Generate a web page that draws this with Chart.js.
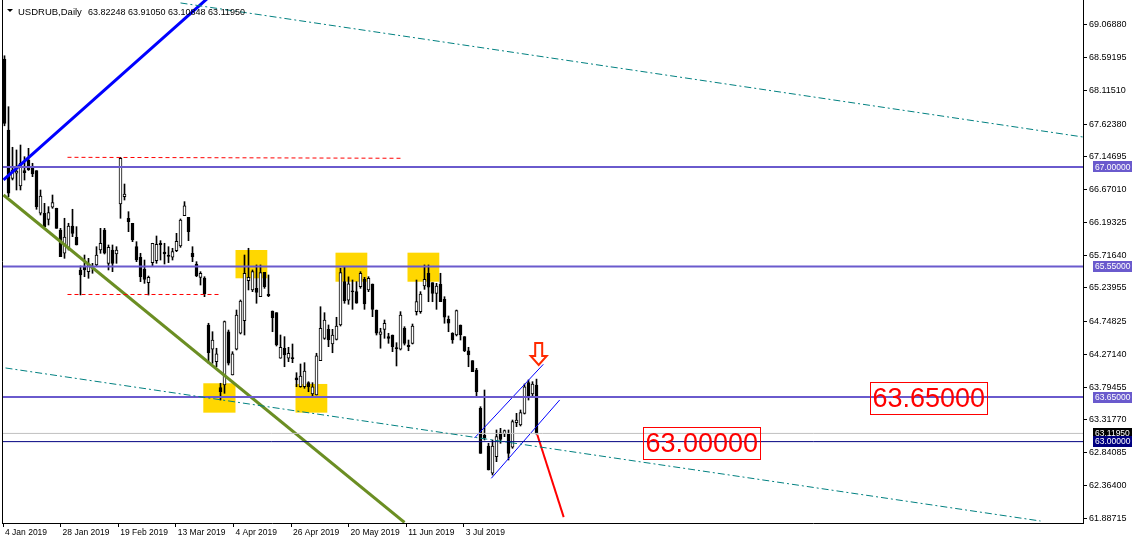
<!DOCTYPE html>
<html>
<head>
<meta charset="utf-8">
<script src="https://cdn.jsdelivr.net/npm/chart.js@4.4.0/dist/chart.umd.min.js"></script>
<style>
  html, body { margin: 0; padding: 0; background: #fff; }
  #wrap { position: relative; width: 1134px; height: 544px; }
</style>
</head>
<body>
<div id="wrap"><canvas id="chart" width="1134" height="544"></canvas></div>
<script>
// USDRUB daily candles (bar index = position from the left)
const opens = [68.57,67.539,66.835,66.91,66.723,66.946,67.102,66.996,66.946,66.326,
  66.326,66.238,66.413,66.398,66.082,65.743,65.816,66.141,65.976,65.50,
  65.548,65.475,65.548,65.573,65.791,66.082,65.597,65.791,65.733,66.461,
  66.567,66.253,66.18,65.839,65.685,65.514,65.315,65.607,65.636,65.889,
  65.762,65.718,65.685,65.781,65.849,66.291,66.267,65.743,65.587,65.393,
  65.383,64.699,64.345,64.164,63.786,63.825,64.601,63.971,64.345,64.578,
  64.761,65.344,65.209,65.233,65.111,65.466,65.146,64.903,64.878,64.214,
  64.36,64.214,64.214,63.931,63.80,63.80,63.859,63.694,63.679,64.179,
  64.505,64.636,64.422,64.49,64.699,65.33,65.06,65.19,65.184,65.257,
  65.364,65.209,65.296,64.917,64.563,64.636,64.529,64.553,64.365,64.345,
  64.651,64.407,64.432,64.893,64.893,65.267,65.452,65.315,65.16,65.291,
  65.073,64.782,64.578,64.553,64.699,64.529,64.324,64.179,64.043,63.486,
  63.092,62.937,62.539,62.78,63.13,63.111,63.111,62.918,63.276,63.243,
  63.412,63.859,63.694,63.82248];
const highs = [68.62,67.878,67.287,67.248,67.32,67.15,67.272,67.054,66.946,66.665,
  66.471,66.422,66.592,66.40,66.107,66.253,66.18,66.384,66.131,65.558,
  65.718,65.67,65.597,65.839,66.107,66.107,65.864,65.864,65.839,67.141,
  66.752,66.349,66.18,65.912,65.743,65.645,65.412,65.889,65.995,65.927,
  65.889,65.839,65.816,66.034,66.243,66.495,66.267,65.839,65.621,65.475,
  65.402,64.724,64.601,64.36,63.85,64.757,64.626,64.31,64.917,65.063,
  65.718,65.816,65.50,65.573,65.573,65.466,65.427,64.903,64.878,64.553,
  64.529,64.374,64.422,64.004,64.131,64.15,63.873,63.859,64.287,64.965,
  64.878,64.699,64.636,64.811,65.525,65.548,65.40,65.354,65.33,65.475,
  65.393,65.402,65.296,64.917,64.651,64.772,64.578,64.553,64.441,64.893,
  64.674,64.48,64.713,65.354,65.184,65.573,65.573,65.315,65.306,65.452,
  65.111,64.83,64.587,64.917,64.699,64.529,64.374,64.179,64.068,63.509,
  63.752,62.976,63.024,63.17,63.194,63.17,63.17,63.315,63.412,63.461,
  63.84,63.898,63.873,63.9105];
const lows = [67.60,66.567,66.811,66.665,66.665,66.81,66.95,66.859,66.384,66.301,
  66.131,66.155,66.398,66.107,65.694,65.67,65.791,65.985,65.864,65.136,
  65.402,65.379,65.452,65.548,65.743,65.733,65.50,65.475,65.597,66.253,
  66.519,66.058,65.912,65.621,65.33,65.305,65.136,65.548,65.597,65.645,
  65.587,65.607,65.645,65.767,65.83,66.291,65.927,65.621,65.402,65.281,
  65.111,64.141,64.141,64.091,63.606,63.704,64.116,63.971,64.335,64.568,
  64.553,65.209,65.184,65.015,65.111,65.233,65.111,64.601,64.393,64.214,
  64.091,64.165,64.15,63.80,63.791,63.777,63.727,63.655,63.679,64.179,
  64.49,64.383,64.295,64.48,64.684,65.015,65.00,64.927,65.015,65.233,
  64.927,65.184,64.82,64.553,64.36,64.505,64.432,64.31,64.102,64.335,
  64.407,64.324,64.422,64.844,64.869,65.218,65.038,65.038,64.927,65.038,
  64.724,64.601,64.432,64.539,64.48,64.31,64.091,64.019,63.655,62.83,
  63.024,62.587,62.514,62.708,62.976,63.072,62.733,62.903,63.218,63.228,
  63.402,63.606,63.655,63.10848];
const closes = [67.636,66.617,66.956,66.94,67.054,66.917,66.96,66.898,66.422,66.578,
  66.131,66.335,66.48,66.107,65.694,65.979,66.141,66.034,65.864,65.427,
  65.50,65.573,65.525,65.718,65.888,65.743,65.83,65.597,65.791,67.127,
  66.607,66.203,65.937,65.645,65.402,65.364,65.393,65.889,65.874,65.869,
  65.733,65.699,65.767,65.917,66.228,66.436,66.058,65.694,65.412,65.452,
  65.15,64.295,64.48,64.277,63.727,64.747,64.141,64.277,64.844,65.048,
  65.452,65.393,65.475,65.175,65.461,65.257,65.126,64.805,64.407,64.374,
  64.262,64.287,64.21,63.898,63.956,64.029,63.80,63.80,64.248,64.651,
  64.772,64.48,64.553,64.684,65.461,65.053,65.30,65.18,65.015,65.452,
  65.005,65.379,64.927,64.578,64.601,64.724,64.505,64.383,64.355,64.844,
  64.432,64.383,64.684,65.038,65.15,65.364,65.248,65.16,65.267,65.038,
  64.811,64.724,64.48,64.907,64.553,64.324,64.262,64.019,63.727,62.83,
  63.053,62.587,62.937,63.072,63.034,63.16,62.83,63.291,63.315,63.422,
  63.80,63.655,63.84,63.1195];

const dateLabels = ['4 Jan 2019', '28 Jan 2019', '19 Feb 2019', '13 Mar 2019', '4 Apr 2019',
  '26 Apr 2019', '20 May 2019', '11 Jun 2019', '3 Jul 2019'];
const priceTicks = [69.06880, 68.59195, 68.11510, 67.62380, 67.14695, 66.67010, 66.19325, 65.71640,
  65.23955, 64.74825, 64.27140, 63.79455, 63.31770, 62.84085, 62.36400, 61.88715];

const levels = [67.0, 65.55, 63.65];
const bidPrice = 63.1195;
const roundLevel = 63.0;

// drawn objects: [bar index, price] end points
const blueTrend = [{x: -0.25, y: 66.811}, {x: 52, y: 69.52}];
const oliveTrend = [{x: -0.25, y: 66.592}, {x: 100, y: 61.823}];
const tealUpper = [{x: 44, y: 69.389}, {x: 269.6, y: 67.437}];
const tealLower = [{x: 0.25, y: 64.073}, {x: 259, y: 61.844}];
const redDashHigh = [{x: 15.75, y: 67.141}, {x: 99, y: 67.127}];
const redDashLow = [{x: 15.75, y: 65.143}, {x: 53.5, y: 65.143}];
const channelUpper = [{x: 117.5, y: 63.053}, {x: 134.7, y: 64.126}];
const channelLower = [{x: 121.7, y: 62.466}, {x: 138.8, y: 63.607}];
const redProjection = [{x: 133.2, y: 63.10}, {x: 139.8, y: 61.90}];

// yellow zones
const zoneStart = [57.75, 82.75, 100.75, 49.7, 72.75];
const zoneEnd = [65.7, 90.7, 108.7, 57.75, 80.7];
const zoneHigh = [65.791, 65.752, 65.752, 63.85, 63.84];
const zoneLow = [65.379, 65.329, 65.329, 63.422, 63.422];

// text notes
const noteTexts = ['63.65000', '63.00000'];
const noteX = [216.4, 159.5];
const noteY = [63.631, 62.976];

const arrowX = 133.55;
const arrowTop = 64.437;

const headerSymbol = 'USDRUB,Daily';
const headerValues = '63.82248 63.91050 63.10848 63.11950';

const FONT = '"Liberation Sans", Arial, sans-serif';

function segment(points, color, width, dash) {
    return {
        type: 'line',
        data: points,
        borderColor: color,
        borderWidth: width,
        borderDash: dash || [],
        pointRadius: 0,
        pointHoverRadius: 0,
        fill: false,
        tension: 0,
        clip: 0,
        order: 1
    };
}

function flatLine(price, color, width) {
    return segment([{x: -1, y: price}, {x: 271, y: price}], color, width);
}

const overlayPlugin = {
    id: 'overlay',
    beforeDatasetsDraw(chart) {
        const {ctx, chartArea: a, scales: {x, y}} = chart;
        ctx.save();
        ctx.beginPath();
        ctx.rect(a.left, a.top, a.right - a.left, a.bottom - a.top);
        ctx.clip();
        ctx.fillStyle = '#ffd700';
        zoneStart.forEach((s, k) => {
            const x0 = x.getPixelForValue(s), x1 = x.getPixelForValue(zoneEnd[k]);
            const y0 = y.getPixelForValue(zoneHigh[k]), y1 = y.getPixelForValue(zoneLow[k]);
            ctx.fillRect(x0, y0, x1 - x0, y1 - y0);
        });
        ctx.restore();
    },
    afterDatasetsDraw(chart) {
        const {ctx, scales: {x, y}} = chart;
        ctx.save();
        // boxed price notes
        ctx.font = '27px ' + FONT;
        ctx.textBaseline = 'middle';
        ctx.textAlign = 'left';
        noteTexts.forEach((t, k) => {
            const px = Math.round(x.getPixelForValue(noteX[k])) + 0.5;
            const py = y.getPixelForValue(noteY[k]);
            const w = Math.ceil(ctx.measureText(t).width) + 4;
            ctx.strokeStyle = '#ff0000';
            ctx.lineWidth = 1;
            ctx.strokeRect(px, Math.round(py - 16) + 0.5, w, 32);
            ctx.fillStyle = '#ff0000';
            ctx.fillText(t, px + 2, py + 1);
        });
        // hollow down arrow
        const ax = x.getPixelForValue(arrowX);
        const ay = y.getPixelForValue(arrowTop);
        ctx.beginPath();
        ctx.moveTo(ax - 3.5, ay);
        ctx.lineTo(ax + 3.5, ay);
        ctx.lineTo(ax + 3.5, ay + 13);
        ctx.lineTo(ax + 8, ay + 13);
        ctx.lineTo(ax, ay + 22);
        ctx.lineTo(ax - 8, ay + 13);
        ctx.lineTo(ax - 3.5, ay + 13);
        ctx.closePath();
        ctx.fillStyle = '#fff';
        ctx.fill();
        ctx.strokeStyle = '#ff2a00';
        ctx.lineWidth = 2;
        ctx.stroke();
        ctx.restore();
    },
    afterDraw(chart) {
        const {ctx, chartArea: a, scales: {y}} = chart;
        ctx.save();
        // left frame
        ctx.strokeStyle = '#000';
        ctx.lineWidth = 1;
        ctx.beginPath();
        ctx.moveTo(a.left + 0.5, a.top);
        ctx.lineTo(a.left + 0.5, a.bottom);
        ctx.stroke();

        // price tags on the axis
        ctx.font = '8.5px ' + FONT;
        ctx.textBaseline = 'middle';
        ctx.textAlign = 'left';
        const tags = levels.map(v => [v, '#6a5acd'])
            .concat([[bidPrice, '#000000'], [roundLevel, '#000080']]);
        tags.forEach(([v, bg]) => {
            const py = y.getPixelForValue(v);
            ctx.fillStyle = bg;
            ctx.fillRect(a.right + 10, Math.round(py - 5.5), 39, 11);
            ctx.fillStyle = '#fff';
            ctx.fillText(v.toFixed(5), a.right + 12, py + 0.5);
        });

        // header
        ctx.fillStyle = '#000';
        ctx.beginPath();
        ctx.moveTo(7, 9);
        ctx.lineTo(13, 9);
        ctx.lineTo(10, 12);
        ctx.closePath();
        ctx.fill();
        ctx.font = '9.5px ' + FONT;
        ctx.textBaseline = 'alphabetic';
        ctx.fillText(headerSymbol, 18, 15);
        ctx.font = '9px ' + FONT;
        ctx.fillText(headerValues, 88, 15);
        ctx.restore();
    }
};

const ctx = document.getElementById('chart').getContext('2d');

new Chart(ctx, {
    type: 'bar',
    data: {
        datasets: [
            {
                type: 'bar',
                data: lows.map((l, i) => ({x: i, y: [l, highs[i]]})),
                backgroundColor: '#000',
                borderWidth: 0,
                barThickness: 1,
                minBarLength: 1,
                grouped: false,
                order: 6
            },
            {
                type: 'bar',
                data: opens.map((o, i) => ({x: i, y: [o, closes[i]]})),
                backgroundColor: opens.map((o, i) => closes[i] >= o ? '#ffffff' : '#000000'),
                borderColor: '#000',
                borderWidth: 1,
                borderSkipped: false,
                barThickness: 3,
                minBarLength: 1,
                grouped: false,
                order: 5
            },
            segment(tealUpper, '#008080', 1, [7, 3, 2, 3]),
            segment(tealLower, '#008080', 1, [7, 3, 2, 3]),
            segment(redDashHigh, '#ff0000', 1, [4, 3]),
            segment(redDashLow, '#ff0000', 1, [4, 3]),
            flatLine(bidPrice, '#c0c0c0', 1),
            flatLine(roundLevel, '#000080', 1),
            ...levels.map(v => flatLine(v, '#6a5acd', 2)),
            segment(oliveTrend, '#6b8e23', 3),
            segment(blueTrend, '#0000ff', 3),
            segment(channelUpper, '#0000ff', 1),
            segment(channelLower, '#0000ff', 1),
            segment(redProjection, '#ff0000', 2)
        ]
    },
    options: {
        responsive: false,
        animation: false,
        devicePixelRatio: 1,
        layout: {padding: {left: 2, top: 0, right: 0, bottom: 0}},
        plugins: {
            legend: {display: false},
            tooltip: {enabled: false}
        },
        scales: {
            x: {
                type: 'linear',
                min: -0.625,
                max: 269.625,
                offset: false,
                grid: {drawOnChartArea: false, drawTicks: true, tickLength: 4, color: '#000', offset: false},
                border: {display: true, color: '#000', width: 1},
                ticks: {
                    autoSkip: false,
                    maxRotation: 0,
                    minRotation: 0,
                    align: 'start',
                    labelOffset: 2,
                    padding: 1,
                    color: '#000',
                    font: {family: FONT, size: 8.5},
                    callback: (v, idx) => dateLabels[idx]
                },
                afterBuildTicks: scale => {
                    scale.ticks = dateLabels.map((d, k) => ({value: -0.375 + k * 14.4}));
                },
                afterFit: scale => {
                    scale.height = 21;
                    scale.paddingLeft = 0;
                    scale.paddingRight = 0;
                }
            },
            y: {
                position: 'right',
                min: 61.815,
                max: 69.432,
                grid: {drawOnChartArea: false, drawTicks: true, tickLength: 4, color: '#000'},
                border: {display: true, color: '#000', width: 1},
                ticks: {
                    autoSkip: false,
                    padding: 2,
                    color: '#000',
                    font: {family: FONT, size: 9},
                    callback: v => v.toFixed(5)
                },
                afterBuildTicks: scale => {
                    scale.ticks = priceTicks.map(v => ({value: v}));
                },
                afterFit: scale => {
                    scale.width = 51;
                    scale.paddingTop = 0;
                    scale.paddingBottom = 0;
                }
            }
        }
    },
    plugins: [overlayPlugin]
});
</script>
</body>
</html>
